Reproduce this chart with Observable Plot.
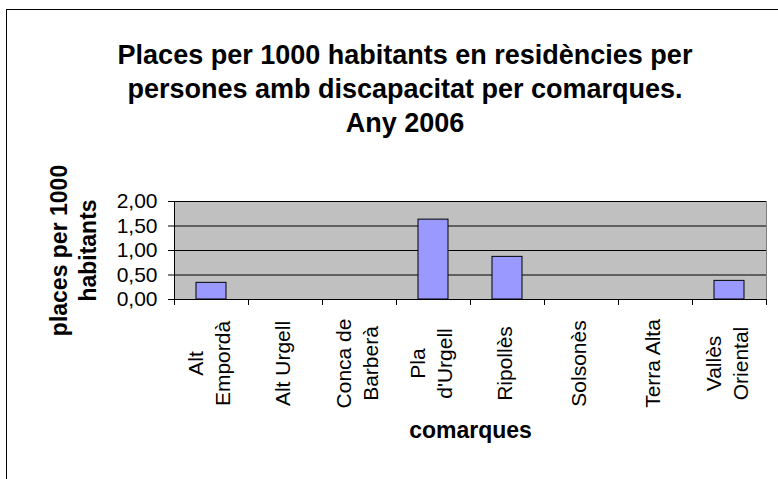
<!DOCTYPE html>
<html><head><meta charset="utf-8">
<script src="https://cdn.jsdelivr.net/npm/d3@7"></script>
<script src="https://cdn.jsdelivr.net/npm/@observablehq/plot@0.6"></script>
<style>
body{margin:0;width:778px;height:479px;overflow:hidden;background:#fff;font-family:"Liberation Sans",Arial,sans-serif;position:relative}
#border{position:absolute;left:6px;top:9px;width:900px;height:600px;border:1px solid #000}
#title{position:absolute;left:0;width:810px;top:38px;text-align:center;font-weight:bold;font-size:27px;line-height:34px;color:#000;white-space:nowrap}
#chart{position:absolute;left:0;top:0}
</style></head><body>
<div id="border"></div>
<div id="chart"></div>
<div id="title">Places per 1000 habitants en residències per<br>persones amb discapacitat per comarques.<br>Any 2006</div>
<script>
const comarques = ["Alt Empordà","Alt Urgell","Conca de Barberà","Pla d'Urgell","Ripollès","Solsonès","Terra Alta","Vallès Oriental"];
const etiquetes = ["Alt\nEmpordà","Alt Urgell","Conca de\nBarberà","Pla\nd'Urgell","Ripollès","Solsonès","Terra Alta","Vallès\nOriental"];
const places = [0.34, 0, 0, 1.63, 0.87, 0, 0, 0.38];
const yTicks = [0, 0.5, 1, 1.5, 2];
const titolY = "places per 1000\nhabitants";
const titolX = "comarques";

const data = comarques.map((c, i) => ({comarca: c, etiqueta: etiquetes[i], valor: places[i]}));
const fmt = d => d.toFixed(2).replace(".", ",");
const font = '"Liberation Sans", Arial, sans-serif';

const plot = Plot.plot({
  width: 778, height: 479,
  marginLeft: 174, marginRight: 12, marginTop: 201, marginBottom: 180,
  style: {fontFamily: font, background: "transparent", color: "#000", overflow: "visible"},
  x: {domain: comarques, paddingInner: 0.6, paddingOuter: 0.3, axis: null},
  y: {domain: [0, 2]},
  marks: [
    Plot.frame({fill: "#c0c0c0", stroke: "#808080"}),
    Plot.ruleY(yTicks, {stroke: "#000", strokeWidth: 1}),
    Plot.frame({anchor: "left", stroke: "#000"}),
    Plot.barY(data.filter(d => d.valor > 0), {x: "comarca", y: "valor", fill: "#9999ff", stroke: "#000", strokeWidth: 1}),
    Plot.axisY(yTicks, {tickFormat: fmt, tickSize: 6, tickPadding: 11, fontSize: 21, stroke: "#000", label: null}),
    Plot.text(data, {x: "comarca", text: "etiqueta", rotate: -90, frameAnchor: "bottom", dx: -4, dy: 64, fontSize: 21, lineHeight: 1.3, textAnchor: "middle", lineAnchor: "middle", fill: "#000"}),
    Plot.text([titolX], {frameAnchor: "bottom", dy: 138, fontSize: 23, fontWeight: "bold", fill: "#000"}),
    Plot.text([titolY], {frameAnchor: "left", dx: -102, rotate: -90, fontSize: 23, fontWeight: "bold", lineHeight: 1.27, lineAnchor: "middle", textAnchor: "middle", fill: "#000"})
  ]
});
document.getElementById("chart").appendChild(plot);

// category boundary ticks below the x axis, from the library's own scales
const xs = plot.scale("x"), ys = plot.scale("y");
const gap = (xs.step - xs.bandwidth) / 2;
const base = ys.apply(0);
const bounds = comarques.map(c => xs.apply(c) - gap).concat([xs.apply(comarques[comarques.length - 1]) + xs.bandwidth + gap]);
const g = d3.select(plot).append("g").attr("stroke", "#000");
g.selectAll("line").data(bounds).join("line")
  .attr("x1", d => Math.round(d) + 0.5).attr("x2", d => Math.round(d) + 0.5)
  .attr("y1", base).attr("y2", base + 6);
g.append("line").attr("x1", xs.range[0]).attr("x2", xs.range[1]).attr("y1", Math.round(base) + 0.5).attr("y2", Math.round(base) + 0.5);
</script>
</body></html>
